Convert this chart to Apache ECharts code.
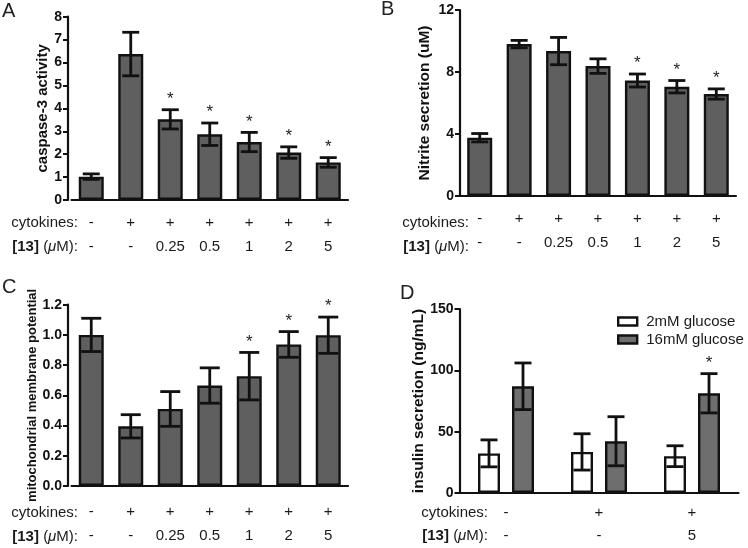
<!DOCTYPE html>
<html><head><meta charset="utf-8">
<script src="https://cdn.jsdelivr.net/npm/echarts@6/dist/echarts.min.js"></script>
<style>html,body{margin:0;padding:0;background:#fff}#c{width:748px;height:548px}</style>
</head><body><div id="c"></div>
<script>
// ---- data ----
const cytokines7 = ['-','+','+','+','+','+','+'];
const dose7 = ['-','-','0.25','0.5','1','2','5'];
const caspase = [1.02, 6.37, 3.52, 2.87, 2.53, 2.07, 1.64];
const caspaseErr = [0.12, 0.95, 0.42, 0.49, 0.42, 0.25, 0.21];
const caspaseSig = [0,0,1,1,1,1,1];
const caspaseTicks = [0,1,2,3,4,5,6,7,8];
const nitrite = [3.76, 9.80, 9.35, 8.38, 7.45, 7.05, 6.58];
const nitriteErr = [0.27, 0.24, 0.88, 0.47, 0.42, 0.40, 0.33];
const nitriteSig = [0,0,0,0,1,1,1];
const nitriteTicks = [0,4,8,12];
const mmp = [1.00, 0.395, 0.51, 0.665, 0.727, 0.937, 0.998];
const mmpErr = [0.11, 0.077, 0.115, 0.117, 0.157, 0.085, 0.12];
const mmpSig = [0,0,0,0,1,1,1];
const mmpTicks = [0,0.2,0.4,0.6,0.8,1.0,1.2];
const cytokines3 = ['-','+','+'];
const dose3 = ['-','-','5'];
const insulinLow = [32.3, 33.5, 30.0];
const insulinLowErr = [11, 14.8, 8.5];
const insulinLowSig = [0,0,0];
const insulinHigh = [87, 42.2, 81.3];
const insulinHighErr = [19, 20, 16];
const insulinHighSig = [0,0,1];
const insulinTicks = [0,50,100,150];
const seriesNames = ['2mM glucose','16mM glucose'];

// ---- style ----
const FONT = "'Liberation Sans', Arial, Helvetica, sans-serif";
const INK = '#111';
const BAR = '#5f5f5f';
const BAR_D = '#6e6e6e';

function cats(c, d){ return c.map((v,i)=> v + '\n' + d[i]); }
function errData(vals, errs, sig){ return vals.map((v,i)=>[i, v, errs[i], sig[i]]); }

function errRender(offset, cap){
  return function(params, api){
    const i = api.value(0), v = api.value(1), e = api.value(2), s = api.value(3);
    const top = api.coord([i, v + e]);
    const bot = api.coord([i, v - e]);
    const x = top[0] + offset;
    const st = {stroke: INK, lineWidth: 2.8};
    const ch = [
      {type:'line', shape:{x1:x, y1:top[1], x2:x, y2:bot[1]}, style:st},
      {type:'line', shape:{x1:x-cap/2, y1:top[1], x2:x+cap/2, y2:top[1]}, style:st},
      {type:'line', shape:{x1:x-cap/2, y1:bot[1], x2:x+cap/2, y2:bot[1]}, style:st}
    ];
    if (s) ch.push({type:'text', x:x, y:top[1]-2, style:{text:'*', fontSize:17, fontFamily:FONT, fill:'#222', align:'center', verticalAlign:'bottom'}});
    return {type:'group', children: ch};
  };
}

const grids = [
  {left:71.5, top:16.7, width:276.5, height:183.3},
  {left:460, top:10, width:276, height:186},
  {left:71.5, top:304.7, width:276.5, height:182.6},
  {left:459.5, top:309, width:279, height:184}
];

function xAxis(gi, data, margin, lh){
  return {type:'category', gridIndex:gi, data:data,
    axisLine:{lineStyle:{color:INK, width:2.2}},
    axisTick:{alignWithLabel:true, length:5, lineStyle:{color:INK, width:2}},
    axisLabel:{color:'#1a1a1a', fontSize:15, fontFamily:FONT, lineHeight:lh, margin:margin, interval:0}
  };
}
function yAxis(gi, ticks, name, nameGap, nameSize, offset, fmt){
  return {type:'value', gridIndex:gi, min:ticks[0], max:ticks[ticks.length-1], interval:ticks[1]-ticks[0],
    offset:offset, name:name, nameLocation:'middle', nameGap:nameGap,
    nameTextStyle:{fontWeight:'bold', fontSize:nameSize, fontFamily:FONT, color:INK},
    axisLine:{show:true, lineStyle:{color:INK, width:2.2}},
    axisTick:{show:true, length:5, lineStyle:{color:INK, width:2}},
    axisLabel:{color:INK, fontWeight:'bold', fontSize:14, fontFamily:FONT, margin:6, formatter:fmt},
    splitLine:{show:false}
  };
}

const barStyle = {color:BAR, borderColor:INK, borderWidth:2.4};
const W7 = 25;
const WD = 22, GAPD = 12;

const option = {
  animation:false,
  grid: grids,
  xAxis: [
    xAxis(0, cats(cytokines7, dose7), 11, 24),
    xAxis(1, cats(cytokines7, dose7), 11, 24),
    xAxis(2, cats(cytokines7, dose7), 14, 24),
    xAxis(3, cats(cytokines3, dose3), 8, 23)
  ],
  yAxis: [
    yAxis(0, caspaseTicks, 'caspase-3 activity', 10, 15, 3.5, v=>String(v)),
    yAxis(1, nitriteTicks, 'Nitrite secretion (uM)', 27, 15.5, 0, v=>String(v)),
    yAxis(2, mmpTicks, 'mitochondrial membrane potential', 25, 13, 3.5, v=>v.toFixed(1)),
    yAxis(3, insulinTicks, 'insulin secretion (ng/mL)', 33, 15.5, 0, v=>String(v))
  ],
  legend: {data: seriesNames, orient:'vertical', left:612, top:309, itemWidth:19, itemHeight:8, itemGap:3,
    icon:'rect', textStyle:{fontSize:15, fontFamily:FONT, color:'#1a1a1a', padding:[0,0,0,4]},
    itemStyle:{borderColor:INK, borderWidth:2.4}},
  series: [
    {type:'bar', xAxisIndex:0, yAxisIndex:0, data:caspase, barWidth:W7, itemStyle:barStyle},
    {type:'custom', xAxisIndex:0, yAxisIndex:0, data:errData(caspase, caspaseErr, caspaseSig), renderItem:errRender(0, 17), z:5},
    {type:'bar', xAxisIndex:1, yAxisIndex:1, data:nitrite, barWidth:W7, itemStyle:barStyle},
    {type:'custom', xAxisIndex:1, yAxisIndex:1, data:errData(nitrite, nitriteErr, nitriteSig), renderItem:errRender(0, 17), z:5},
    {type:'bar', xAxisIndex:2, yAxisIndex:2, data:mmp, barWidth:W7, itemStyle:barStyle},
    {type:'custom', xAxisIndex:2, yAxisIndex:2, data:errData(mmp, mmpErr, mmpSig), renderItem:errRender(0, 20), z:5},
    {type:'bar', name:seriesNames[0], xAxisIndex:3, yAxisIndex:3, data:insulinLow, barWidth:WD, barGap:(GAPD/WD*100)+'%', itemStyle:{color:'#fff', borderColor:INK, borderWidth:2.4}},
    {type:'bar', name:seriesNames[1], xAxisIndex:3, yAxisIndex:3, data:insulinHigh, barWidth:WD, barGap:(GAPD/WD*100)+'%', itemStyle:{color:BAR_D, borderColor:INK, borderWidth:2.4}},
    {type:'custom', xAxisIndex:3, yAxisIndex:3, data:errData(insulinLow, insulinLowErr, insulinLowSig), renderItem:errRender(-(WD+GAPD)/2, 17), z:5},
    {type:'custom', xAxisIndex:3, yAxisIndex:3, data:errData(insulinHigh, insulinHighErr, insulinHighSig), renderItem:errRender((WD+GAPD)/2, 17), z:5}
  ],
  graphic: [
    {type:'text', left:2, top:1, style:{text:'A', fontSize:20, fontFamily:FONT, fill:'#222'}},
    {type:'text', left:381, top:-1, style:{text:'B', fontSize:20, fontFamily:FONT, fill:'#222'}},
    {type:'text', left:2, top:277, style:{text:'C', fontSize:20, fontFamily:FONT, fill:'#222'}},
    {type:'text', left:400, top:283, style:{text:'D', fontSize:20, fontFamily:FONT, fill:'#222'}}
  ]
};

// row headers under each panel
const rowHeads = [
  {x:78, y1:222.5, y2:246.5},
  {x:469, y1:222.5, y2:246.5},
  {x:78, y1:513, y2:537},
  {x:488, y1:513, y2:536}
];
const rich = {b:{fontWeight:'bold', fontSize:15, fontFamily:FONT, fill:'#1a1a1a'}, i:{fontStyle:'italic', fontSize:15, fontFamily:FONT, fill:'#1a1a1a'}, n:{fontSize:15, fontFamily:FONT, fill:'#1a1a1a'}};
rowHeads.forEach(r=>{
  option.graphic.push({type:'text', x:r.x, y:r.y1, style:{text:'cytokines:', fontSize:15, fontFamily:FONT, fill:'#1a1a1a', align:'right', verticalAlign:'middle'}});
  option.graphic.push({type:'text', x:r.x, y:r.y2, style:{text:'{b|[13]}{n| (}{i|\u03bc}{n|M):}', rich:rich, fontSize:15, fontFamily:FONT, align:'right', verticalAlign:'middle'}});
});

const chart = echarts.init(document.getElementById('c'), null, {renderer:'canvas'});
chart.setOption(option);
</script>
</body></html>
